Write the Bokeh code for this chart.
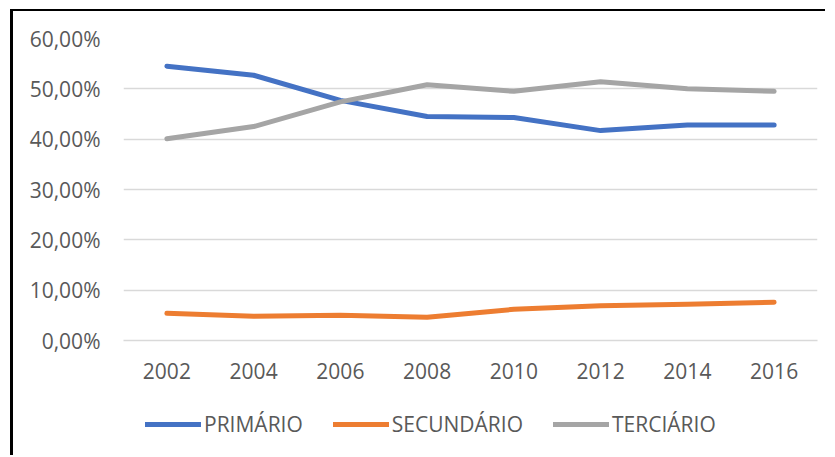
from bokeh.plotting import figure
from bokeh.layouts import column
from bokeh.models import FactorRange, Range1d, FixedTicker, Legend, LegendItem, ColumnDataSource
from bokeh.embed import file_html
from bokeh.resources import INLINE

years = ["2002", "2004", "2006", "2008", "2010", "2012", "2014", "2016"]
primario = [54.5, 52.7, 47.7, 44.5, 44.3, 41.7, 42.8, 42.8]
secundario = [5.4, 4.8, 5.0, 4.6, 6.2, 6.9, 7.2, 7.6]
terciario = [40.1, 42.5, 47.4, 50.8, 49.5, 51.4, 50.0, 49.5]
y_ticks = [0, 10, 20, 30, 40, 50, 60]
y_tick_labels = ["0,00%", "10,00%", "20,00%", "30,00%", "40,00%", "50,00%", "60,00%"]
series_names = ["PRIMÁRIO", "SECUNDÁRIO", "TERCIÁRIO"]
colors = ["#4472C4", "#ED7D31", "#A5A5A5"]

FONT = "Open Sans"
TXT = "#595959"
FS = "21px"

src = ColumnDataSource(dict(year=years, primario=primario, secundario=secundario, terciario=terciario))

p = figure(width=812, height=380,
           x_range=FactorRange(*years, range_padding=0),
           y_range=Range1d(0, 60),
           output_backend="svg", toolbar_location=None,
           min_border_left=110, min_border_right=8, min_border_top=27, min_border_bottom=51)
p.outline_line_color = None
p.background_fill_color = "white"
p.border_fill_color = "white"

renderers = []
for col, c in zip(["primario", "secundario", "terciario"], colors):
    r = p.line(x="year", y=col, source=src, line_color=c, line_width=5,
               line_cap="round", line_join="round")
    renderers.append(r)

p.xgrid.visible = False
p.ygrid.grid_line_color = "#D9D9D9"
p.ygrid.grid_line_width = 1.5

p.yaxis.ticker = FixedTicker(ticks=y_ticks)
p.yaxis.major_label_overrides = {t: l for t, l in zip(y_ticks, y_tick_labels)}
p.yaxis.axis_line_color = None
p.yaxis.major_tick_line_color = None
p.yaxis.minor_tick_line_color = None
p.yaxis.major_tick_in = 0
p.yaxis.major_tick_out = 0
p.yaxis.major_label_standoff = 23

p.xaxis.axis_line_color = "#D9D9D9"
p.xaxis.axis_line_width = 1.5
p.xaxis.major_tick_line_color = None
p.xaxis.major_tick_in = 0
p.xaxis.major_tick_out = 0
p.xaxis.major_label_standoff = 22

for ax in (p.xaxis, p.yaxis):
    ax.major_label_text_font = FONT
    ax.major_label_text_font_size = FS
    ax.major_label_text_color = TXT

# legend strip below the chart (frame is aligned with the chart's frame by the column layout)
lg = figure(width=812, height=64, x_range=Range1d(0, 1), y_range=Range1d(0, 1),
            output_backend="svg", toolbar_location=None,
            min_border_left=0, min_border_right=0, min_border_top=0, min_border_bottom=0,
            x_axis_type=None, y_axis_type=None)
lg.grid.visible = False
lg.outline_line_color = None
lg.background_fill_color = "white"
lg.border_fill_color = "white"
dummies = [lg.line(x=[-5, -4], y=[-5, -5], line_color=c, line_width=5, line_cap="round")
           for c in colors]

legend = Legend(items=[LegendItem(label=n, renderers=[r]) for n, r in zip(series_names, dummies)],
                orientation="horizontal", location=(22, 17),
                glyph_width=56, glyph_height=20, label_height=20, label_standoff=3, spacing=30,
                padding=0, margin=0, border_line_color=None, background_fill_alpha=0,
                label_text_font=FONT, label_text_font_size=FS, label_text_color=TXT)
lg.add_layout(legend, "center")

layout = column(p, lg, spacing=0)
layout.styles = {"border-left": "3px solid black", "border-top": "2px solid black",
                 "margin-left": "10px", "margin-top": "9px"}

open("out.html", "w").write(file_html(layout, INLINE))
